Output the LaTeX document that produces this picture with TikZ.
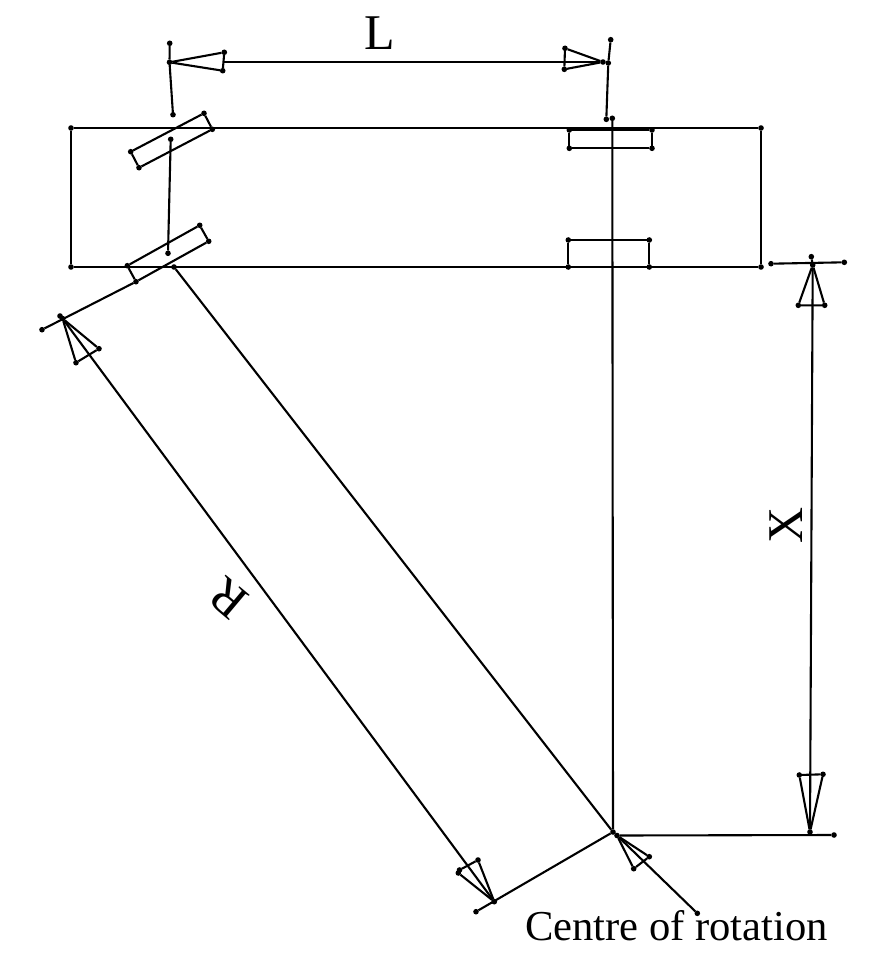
\documentclass[tikz,border=0pt]{standalone}
\usepackage{fontspec}
\setmainfont{Liberation Serif}
\usepackage{tikz}
\tikzset{
	vertex/.style={circle, fill=black, inner sep=0pt, outer sep=0pt, minimum size=5.6pt},
	bigtext/.style={inner sep=0pt, font=\fontsize{50}{50}\selectfont},
	captext/.style={inner sep=0pt, font=\fontsize{42.6}{43}\selectfont}
}

\begin{document}
\begin{tikzpicture}[x=1pt, y=-1pt, line width=2.1pt, line join=round]
	\useasboundingbox (0,0) rectangle (881,963);
	\foreach \name/\x/\y in {
		bodyTL/71/128, bodyTR/761/128, bodyBR/761/267, bodyBL/71/267,
		tickLt/169.7/43.3, tickLm/169.5/62.3, tickLb/173/114.7,
		tickRt/610.7/39.7, tickRm/608.3/63, tickRb/606.3/119.3,
		arrLa/224.3/52.3, arrLb/222.7/70.7, arrRa/565/48.3, arrRb/564.3/69.3, tipRl/603/62,
		whA1/204/113.3, whA2/212.3/129.3, whA3/139/167.7, whA4/130.7/151.7,
		whB1/199.7/225.3, whB2/208.7/241.3, whB3/136/281.7, whB4/127.3/265.7,
		whC1/569.3/130, whC2/652/130, whC3/652/148.3, whC4/569.3/148.3,
		whD1/568.3/240, whD2/649.3/240, whD3/649.3/267, whD4/568.3/267,
		axleT/170.7/139.3, axleB/168/253.3,
		shaftT/612.3/118.3, centre/613/832,
		armT/174/267, tickTt/42/329.7, tipRt/60/316, tipRu/62.5/318.5,
		arrRc/99/348.7, arrRd/76/362.7,
		tickBb/476/911.7, tipRb/494.3/901.7,
		arrRe/478/860, arrRf/458.3/873, arrRg/459.5/870,
		tipC/617/835.5, arrCa/649.3/856.7, arrCb/633.7/868.7, capEnd/697.3/913.3,
		baseR/834/835, tipXb/810/832, arrXa/799.3/775, arrXb/823/774.3,
		tickXl/771/263.7, tickXr/844.3/262.3, tipXt/811.3/256.7, midXt/812.7/265,
		arrXc/798.3/305.3, arrXd/824.7/305.3
	}
		\node[vertex] (\name) at (\x,\y) {};

	\draw (bodyTL) -- (bodyTR) -- (bodyBR) -- (bodyBL) -- (bodyTL);
	\foreach \wh in {whA, whB, whC, whD}
		\draw (\wh1) -- (\wh2) -- (\wh3) -- (\wh4) -- (\wh1);
	\draw (axleT) -- (axleB);
	\draw (shaftT) -- (centre);
	\draw (armT) -- (centre);

	% L
	\draw (tickLt) -- (tickLm) -- (tickLb);
	\draw (tickRt) -- (tickRm) -- (tickRb);
	\draw (arrLa) -- (tickLm) -- (arrLb) -- (arrLa);
	\draw (arrRa) -- (tipRl) -- (arrRb) -- (arrRa);
	\draw (arrLa |- tipRl) -- (tipRl);

	% R
	\draw (tickTt) -- (whB3);
	\draw (tickBb) -- (centre);
	\draw (tipRu) -- (tipRb);
	\draw (arrRc) -- (tipRu) -- (arrRd) -- (arrRc);
	\draw (tipRt) -- (tipRu);
	\draw (arrRe) -- (tipRb) -- (arrRf);
	\draw (arrRe) -- (arrRg);

	% X
	\draw (tipC) -- (baseR);
	\draw (tickXl) -- (tickXr);
	\draw (tipXt) -- (midXt) -- (tipXb);
	\draw (arrXa) -- (tipXb) -- (arrXb) -- (arrXa);
	\draw (arrXc) -- (midXt) -- (arrXd) -- (arrXc);

	% centre
	\draw (tipC) -- (capEnd);
	\draw (arrCa) -- (tipC) -- (arrCb) -- (arrCa);

	\node[bigtext] (labelL) at (380,33) {L};
	\node[bigtext, rotate=90] (labelX) at (786,525) {X};
	\node[bigtext, rotate=140] (labelR) at (228,598) {R};
	\node[captext] (labelC) at (676.5,926) {Centre of rotation};
\end{tikzpicture}
\end{document}
